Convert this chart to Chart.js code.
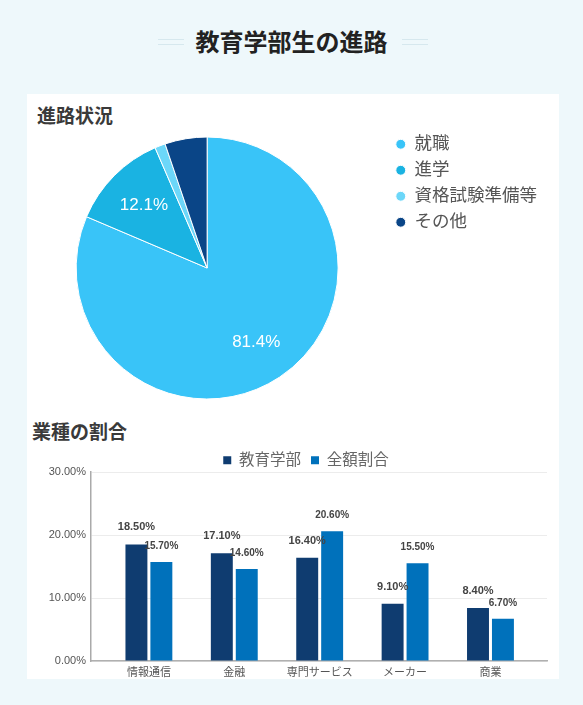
<!DOCTYPE html>
<html lang="ja">
<head>
<meta charset="utf-8">
<script src="https://cdn.jsdelivr.net/npm/chart.js@4.4.1/dist/chart.umd.min.js"></script>
<style>
  body { margin: 0; background: #eef8fb; font-family: 'Liberation Sans', 'Noto Sans CJK JP', sans-serif; }
  .page { position: relative; width: 583px; height: 705px; }
  .title { position: absolute; left: 0; width: 583px; top: 27px; text-align: center;
           font-size: 24px; font-weight: bold; color: #222; line-height: 32px; }
  .deco { position: absolute; width: 26px; height: 4px; top: 39px;
          border-top: 1px solid #d6e8ee; border-bottom: 1px solid #d6e8ee; }
  .card { position: absolute; left: 27px; top: 94px; width: 532px; height: 585px; background: #fff; }
  .head { position: absolute; font-size: 19px; font-weight: bold; color: #3a3a3a; line-height: 24px; }
  canvas { position: absolute; }
</style>
</head>
<body>
<div class="page">
  <div class="deco" style="left:158px"></div>
  <div class="title">教育学部生の進路</div>
  <div class="deco" style="left:402px"></div>
  <div class="card"></div>
  <div class="head" style="left:37px; top:105px">進路状況</div>
  <canvas id="pie_canvas" width="530" height="282" style="left:27px; top:127px"></canvas>
  <div class="head" style="left:32px; top:421px">業種の割合</div>
  <canvas id="bar_canvas" width="530" height="235" style="left:27px; top:445px"></canvas>
</div>

<script>
// 進路状況 (%)
var course_labels = ['就職', '進学', '資格試験準備等', 'その他'];
var course_values = [81.4, 12.1, 1.3, 5.2];
var course_colors = ['#39c4f8', '#1ab3e2', '#6cd7f9', '#0a4587'];

// 業種の割合 (%)
var industry_labels = ['情報通信', '金融', '専門サービス', 'メーカー', '商業'];
var faculty_values = [18.5, 17.1, 16.4, 9.1, 8.4];
var overall_values = [15.7, 14.6, 20.6, 15.5, 6.7];
var y_ticks = [0, 10, 20, 30];

Chart.defaults.font.family = "'Liberation Sans', 'Noto Sans CJK JP', sans-serif";
Chart.defaults.animation = false;

// pie percentage labels, only on the big slices
var pie_label_plugin = {
  id: 'pie_labels',
  afterDatasetsDraw: function(chart)
  {
    var ctx = chart.ctx;
    var meta = chart.getDatasetMeta(0);
    ctx.save();
    ctx.fillStyle = '#fff';
    ctx.font = "17px 'Liberation Sans', sans-serif";
    ctx.textAlign = 'center';
    ctx.textBaseline = 'middle';
    meta.data.forEach(function(arc, i)
    {
      var v = course_values[i];
      if (v < 10) return;
      var p = arc.getProps(['x', 'y', 'startAngle', 'endAngle', 'outerRadius'], true);
      var mid = (p.startAngle + p.endAngle) / 2;
      var r = p.outerRadius * 0.68;
      ctx.fillText(v.toFixed(1) + '%', p.x + Math.cos(mid) * r, p.y + Math.sin(mid) * r);
    });
    ctx.restore();
  }
};

// value labels above the bars
var bar_label_plugin = {
  id: 'bar_labels',
  afterLayout: function(chart)
  {
    // legend sits a bit right of the canvas centre and a little higher
    chart.legend.left += 38;
    chart.legend.top -= 2.5;
  },
  afterDatasetsDraw: function(chart)
  {
    var ctx = chart.ctx;
    ctx.save();
    ctx.fillStyle = '#444';
    ctx.textAlign = 'center';
    ctx.textBaseline = 'middle';
    chart.data.datasets.forEach(function(ds, d)
    {
      ctx.font = (d == 0 ? 'bold 11px' : 'bold 10px') + " 'Liberation Sans', sans-serif";
      chart.getDatasetMeta(d).data.forEach(function(bar, i)
      {
        ctx.fillText(ds.data[i].toFixed(2) + '%', bar.x, bar.y - (d == 0 ? 17 : 16));
      });
    });
    ctx.restore();
  }
};

new Chart(document.getElementById('pie_canvas'), {
  type: 'pie',
  data: {
    labels: course_labels,
    datasets: [{
      data: course_values,
      backgroundColor: course_colors,
      borderColor: '#fff',
      borderWidth: 1,
      radius: 131
    }]
  },
  options: {
    responsive: false,
    layout: { padding: { left: 0, right: 10, top: 0, bottom: 0 } },
    plugins: {
      legend: {
        position: 'right',
        align: 'start',
        labels: {
          usePointStyle: true,
          pointStyle: 'circle',
          boxWidth: 10,
          boxHeight: 7,
          padding: 8.5,
          color: '#555',
          font: { size: 17.5 }
        }
      },
      tooltip: { enabled: false }
    }
  },
  plugins: [pie_label_plugin]
});

new Chart(document.getElementById('bar_canvas'), {
  type: 'bar',
  data: {
    labels: industry_labels,
    datasets: [
      { label: '教育学部', data: faculty_values, backgroundColor: '#0f3c70',
        categoryPercentage: 0.584, barPercentage: 0.88 },
      { label: '全額割合', data: overall_values, backgroundColor: '#0071bb',
        categoryPercentage: 0.584, barPercentage: 0.88 }
    ]
  },
  options: {
    responsive: false,
    layout: { padding: { left: 0, right: 10, top: 0, bottom: 0 } },
    scales: {
      x: {
        grid: { display: false, drawTicks: false },
        border: { color: '#b0b0b0', width: 1.5 },
        ticks: { color: '#555', font: { size: 11 }, padding: 5 },
        afterFit: function(scale) { scale.height = 19; },
        afterBuildTicks: function(scale)
        {
          // leave some room between the axis and the first / last group
          scale._startValue = -0.678;
          scale._valueRange = 5.34;
        }
      },
      y: {
        min: 0,
        max: 30,
        afterBuildTicks: function(scale) { scale.ticks = y_ticks.map(function(v) { return { value: v }; }); },
        grid: { color: '#ececec', drawTicks: false },
        border: { color: '#aaa', width: 1.5 },
        ticks: {
          color: '#555',
          font: { size: 11 },
          padding: 5,
          callback: function(v) { return v.toFixed(2) + '%'; }
        },
        afterFit: function(scale) { scale.width = 64; }
      }
    },
    plugins: {
      legend: {
        position: 'top',
        maxHeight: 27,
        labels: { boxWidth: 8, boxHeight: 8, padding: 10, color: '#666', font: { size: 15.5 } }
      },
      tooltip: { enabled: false }
    }
  },
  plugins: [bar_label_plugin]
});
</script>
</body>
</html>
